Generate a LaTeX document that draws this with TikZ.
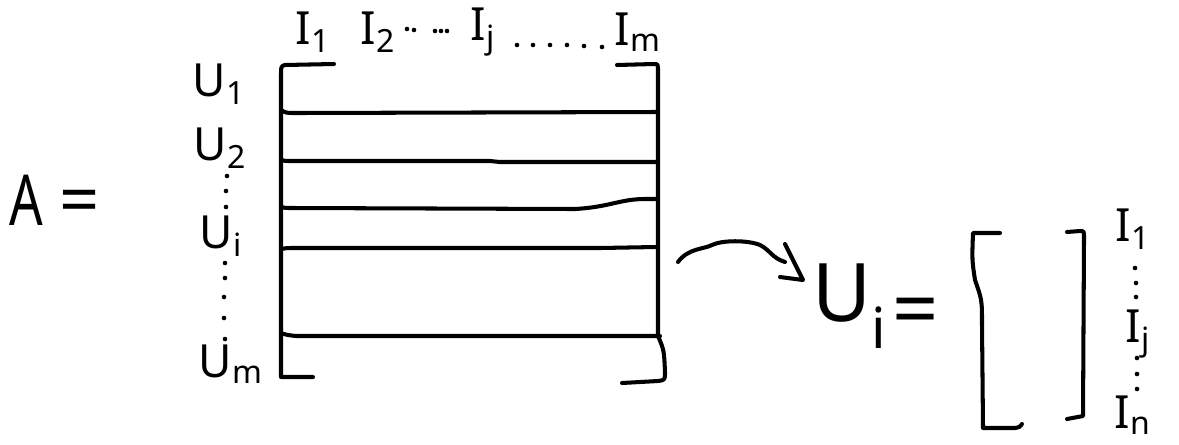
\documentclass[tikz,border=0pt]{standalone}
\usepackage{fontspec}
\setmainfont{Noto Sans}
\tikzset{
  ink/.style={line width=2.3pt, line cap=round, line join=round},
  lbl/.style={inner sep=0pt, font=\fontsize{26}{30}\selectfont},
  biglbl/.style={inner sep=0pt, font=\fontsize{40}{46}\selectfont},
  dotmark/.style={fill=black, draw=none}
}
\newcommand{\sdot}[1]{\fill[dotmark] (#1) circle (2.3);}
\begin{document}
\begin{tikzpicture}[x=0.02cm,y=-0.02cm]
\useasboundingbox (0,0) rectangle (1179,444);
% A =
\node[biglbl, xscale=0.75, transform shape] (A) at (26,200) {A};
\node[biglbl] (Aeq) at (80,207) {=};
% big matrix brackets
\draw[ink] (334,64) -- (285,65) .. controls (281,66) .. (281,78) -- (281,377) -- (313,377);
\draw[ink] (617,65) -- (654,64) .. controls (658,64) .. (658,72) -- (658,336) .. controls (664,350) .. (665,372) .. controls (665,380) .. (658,381) -- (622,383);
% rows
\draw[ink] (281,110) .. controls (286,113) .. (296,113) -- (656,112);
\draw[ink] (281,160) .. controls (285,161) .. (292,161) -- (490,161) -- (500,162) -- (656,162);
\draw[ink] (281,207) .. controls (285,208) .. (292,208) -- (575,209) .. controls (610,207) and (620,199) .. (645,199) -- (656,199);
\draw[ink] (281,249) .. controls (286,248) .. (296,248) -- (600,248) -- (656,247);
\draw[ink] (281,333) .. controls (287,335) .. (296,336) -- (660,336);
% row labels
\node[lbl] (u1) at (219,84) {U\textsubscript{1}};
\node[lbl] (u2) at (220,148) {U\textsubscript{2}};
\node[lbl] (ui) at (221,236) {U\textsubscript{i}};
\node[lbl] (um) at (231,364) {U\textsubscript{m}};
\sdot{227,176}\sdot{226,191}\sdot{226,207}
\sdot{225,263}\sdot{225,278}\sdot{224,297}\sdot{224,318}\sdot{225,339}
% column labels
\node[lbl] (i1) at (313,32) {I\textsubscript{1}};
\node[lbl] (i2) at (378,32) {I\textsubscript{2}};
\node[lbl] (ij) at (483,32) {I\textsubscript{j}};
\node[lbl] (im) at (638,32) {I\textsubscript{m}};
\sdot{407,29}\sdot{414,30}\sdot{435,31}\sdot{441,31}\sdot{447,31}
\sdot{517,45}\sdot{533,45}\sdot{550,45}\sdot{567,45}\sdot{584,46}\sdot{602,47}
% arrow
\coordinate (as) at (678,262);
\coordinate (ae) at (803,280);
\draw[ink] (as) .. controls (688,248) and (705,249) .. (712,245) .. controls (722,240) and (748,240) .. (760,245) .. controls (770,250) and (772,258) .. (785,262);
\draw[ink] (785,244) -- (ae) -- (780,277);
% Ui =
\node[biglbl, font=\fontsize{46}{52}\selectfont] (uiv) at (850,306) {U\textsubscript{i}};
\node[biglbl, font=\fontsize{46}{52}\selectfont] (uieq) at (916,318) {=};
% vector brackets
\draw[ink] (1000,233) -- (973,233) .. controls (972,260) .. (975,280) .. controls (982,300) .. (982,325) -- (983,428) -- (1015,428) .. controls (1020,427) .. (1022,424);
\draw[ink] (1067,232) -- (1080,231) .. controls (1084,231) .. (1084,238) -- (1083,416) -- (1067,419);
% vector labels
\node[lbl] (vi1) at (1133,229) {I\textsubscript{1}};
\node[lbl] (vij) at (1138,334) {I\textsubscript{j}};
\node[lbl] (vin) at (1133,415) {I\textsubscript{n}};
\sdot{1135,268}\sdot{1136,283}\sdot{1136,297}
\sdot{1137,358}\sdot{1137,374}\sdot{1137,389}
\end{tikzpicture}
\end{document}
